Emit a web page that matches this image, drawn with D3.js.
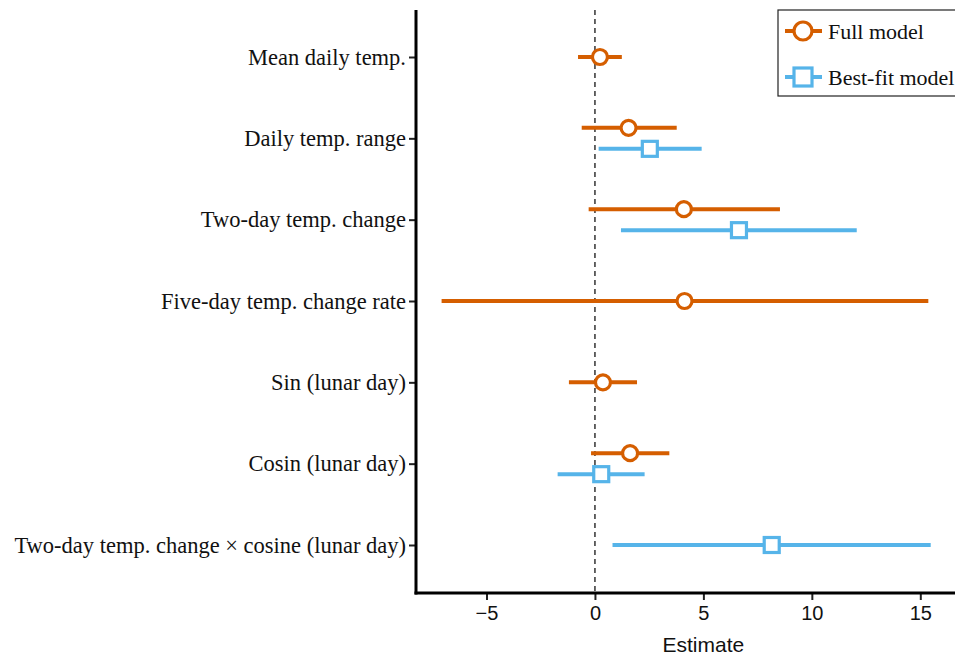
<!DOCTYPE html>
<html>
<head>
<meta charset="utf-8">
<script src="https://cdn.jsdelivr.net/npm/d3@7"></script>
<style>
  body { margin: 0; background: #fff; }
  svg { display: block; }
</style>
</head>
<body>
<svg id="chart" width="955" height="662"></svg>
<script>
let terms = [
    "Mean daily temp.",
    "Daily temp. range",
    "Two-day temp. change",
    "Five-day temp. change rate",
    "Sin (lunar day)",
    "Cosin (lunar day)",
    "Two-day temp. change \u00d7 cosine (lunar day)"
]
let models = ["Full model", "Best-fit model"]
let xTicks = [-5, 0, 5, 10, 15]

// full model: estimate, lower, upper (null = term not in model)
let fullEst   = [0.23, 1.55, 4.10, 4.13, 0.37, 1.62, null]
let fullLow   = [-0.78, -0.61, -0.29, -7.07, -1.20, -0.18, null]
let fullHigh  = [1.24, 3.77, 8.53, 15.37, 1.94, 3.43, null]

let bestEst   = [null, 2.53, 6.64, null, null, 0.29, 8.15]
let bestLow   = [null, 0.17, 1.20, null, null, -1.72, 0.81]
let bestHigh  = [null, 4.92, 12.07, null, null, 2.29, 15.48]

let colors = {"Full model": "#D55E00", "Best-fit model": "#56B4E9"}

let rows = []
terms.forEach((t, i) => {
    let both = fullEst[i] != null && bestEst[i] != null
    if (fullEst[i] != null) rows.push({term: t, model: "Full model", est: fullEst[i], lo: fullLow[i], hi: fullHigh[i], off: both ? -10.5 : 0})
    if (bestEst[i] != null) rows.push({term: t, model: "Best-fit model", est: bestEst[i], lo: bestLow[i], hi: bestHigh[i], off: both ? 10.5 : 0})
})

let svg = d3.select('#chart')
let plotLeft = 416, plotRight = 955, plotTop = 10, plotBottom = 593

let x = d3.scaleLinear().domain([-8.25, 16.6]).range([plotLeft, plotRight])
let y = d3.scalePoint().domain(terms).range([57, 545])

// zero reference line
svg.append('line')
    .attr('x1', x(0)).attr('x2', x(0))
    .attr('y1', plotTop).attr('y2', plotBottom)
    .attr('stroke', '#333').attr('stroke-width', 1.5)
    .attr('stroke-dasharray', '5,4')

// axes
let yAxis = svg.append('g')
    .attr('transform', `translate(${plotLeft},0)`)
    .call(d3.axisLeft(y).tickSize(7).tickPadding(3))
yAxis.select('.domain').remove()
yAxis.selectAll('.tick line').attr('stroke', '#222').attr('stroke-width', 2)
yAxis.selectAll('.tick text')
    .attr('font-family', '"Liberation Serif", "Times New Roman", serif')
    .attr('font-size', 22.5).attr('fill', '#111')

let xAxis = svg.append('g')
    .attr('transform', `translate(0,${plotBottom})`)
    .call(d3.axisBottom(x).tickValues(xTicks).tickSize(7).tickPadding(6).tickFormat(d => d < 0 ? '\u2212' + Math.abs(d) : d))
xAxis.select('.domain').remove()
xAxis.selectAll('.tick line').attr('stroke', '#222').attr('stroke-width', 2)
xAxis.selectAll('.tick text')
    .attr('font-family', '"Liberation Sans", Arial, sans-serif')
    .attr('font-size', 20).attr('fill', '#111')

svg.append('line')
    .attr('x1', plotLeft).attr('x2', plotLeft).attr('y1', plotTop).attr('y2', plotBottom + 1.5)
    .attr('stroke', '#000').attr('stroke-width', 3)
svg.append('line')
    .attr('x1', plotLeft - 1.5).attr('x2', plotRight).attr('y1', plotBottom).attr('y2', plotBottom)
    .attr('stroke', '#000').attr('stroke-width', 3)

svg.append('text')
    .attr('x', x(5)).attr('y', 652)
    .attr('text-anchor', 'middle')
    .attr('font-family', '"Liberation Sans", Arial, sans-serif')
    .attr('font-size', 21).attr('fill', '#111')
    .text('Estimate')

// intervals
svg.selectAll('.ci')
    .data(rows)
    .enter()
    .append('line')
    .attr('class', 'ci')
    .attr('x1', d => x(d.lo)).attr('x2', d => x(d.hi))
    .attr('y1', d => y(d.term) + d.off).attr('y2', d => y(d.term) + d.off)
    .attr('stroke', d => colors[d.model]).attr('stroke-width', 4)

// point markers
let drawMarker = (sel, model, s) => {
    if (model === "Full model") {
        sel.append('circle').attr('r', 7.5 * s)
            .attr('fill', '#fff').attr('stroke', colors[model]).attr('stroke-width', 3.2)
    } else {
        sel.append('rect').attr('x', -7.5 * s).attr('y', -7.5 * s).attr('width', 15 * s).attr('height', 15 * s)
            .attr('fill', '#fff').attr('stroke', colors[model]).attr('stroke-width', 3.2)
    }
}

rows.forEach(d => {
    let g = svg.append('g').attr('transform', `translate(${x(d.est)},${y(d.term) + d.off})`)
    drawMarker(g, d.model, 1)
})

// legend
let legend = svg.append('g')
svg.append('rect')
    .attr('x', 778).attr('y', 10).attr('width', 190).attr('height', 86)
    .attr('fill', 'none').attr('stroke', '#222').attr('stroke-width', 1.2)
models.forEach((m, i) => {
    let ly = 31 + i * 46
    legend.append('line')
        .attr('x1', 785).attr('x2', 822).attr('y1', ly).attr('y2', ly)
        .attr('stroke', colors[m]).attr('stroke-width', 4)
    let g = legend.append('g').attr('transform', `translate(803,${ly})`)
    drawMarker(g, m, 1.2)
    legend.append('text')
        .attr('x', 828).attr('y', ly + 7.5)
        .attr('font-family', '"Liberation Serif", "Times New Roman", serif')
        .attr('font-size', 22).attr('fill', '#111')
        .text(m)
})
</script>
</body>
</html>
